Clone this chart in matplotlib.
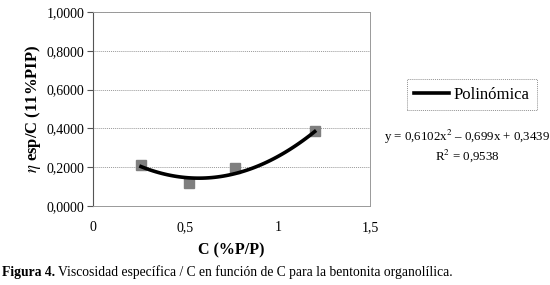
import numpy as np
import matplotlib.pyplot as plt

# datos
conc = [0.26, 0.52, 0.77, 1.20]
visc = [0.213, 0.118, 0.198, 0.386]
coef = [0.6102, -0.699, 0.3439]   # ajuste polinomico de Excel
xticks = [0, 0.5, 1, 1.5]
xlabels = ["0", "0,5", "1", "1,5"]
yticks = [0.0, 0.2, 0.4, 0.6, 0.8, 1.0]
ylabels = ["0,0000", "0,2000", "0,4000", "0,6000", "0,8000", "1,0000"]

plt.rcParams['font.family'] = ['Liberation Serif', 'DejaVu Serif']
plt.rcParams['mathtext.fontset'] = 'stix'

fig = plt.figure(figsize=(5.5, 2.85), dpi=100)
ax = fig.add_axes([0.169, 0.277, 0.504, 0.681])

# curva de tendencia
xs = np.linspace(conc[0], conc[-1], 60)
trend, = ax.plot(xs, np.polyval(coef, xs), color="black", lw=2.6, zorder=3,
                 label="Polinómica")
ax.plot(conc, visc, ls="none", marker="s", ms=7, color="#7f7f7f", zorder=2)

ax.set_xlim(0, 1.5)
ax.set_ylim(0, 1.0)
ax.set_xticks(xticks)
ax.set_xticklabels(xlabels)
ax.set_yticks(yticks)
ax.set_yticklabels(ylabels)
ax.tick_params(axis="x", length=0, pad=11, labelsize=10)
ax.tick_params(axis="y", length=4, width=0.8, color="#555555", pad=2, labelsize=10)
ax.yaxis.grid(True, color="#999999", ls=(0, (1, 1)), lw=0.7)

for s in ["top", "right", "bottom"]:
    ax.spines[s].set_color("#999999")
    ax.spines[s].set_linestyle((0, (1, 1)))
    ax.spines[s].set_linewidth(0.7)
ax.spines["left"].set_color("#555555")
ax.spines["left"].set_linewidth(0.8)

ax.set_xlabel("C (%P/P)", fontsize=11.5, fontweight="bold", labelpad=6)
ax.set_ylabel(r"$\eta$ esp/C (11%PIP)", fontsize=12, fontweight="bold", labelpad=3)

leg = fig.legend(handles=[trend], loc="center", bbox_to_anchor=(0.858, 0.668),
                 fontsize=12, frameon=True, fancybox=False, handlelength=2.1,
                 borderpad=0.45, handletextpad=0.25)
leg.get_frame().set_edgecolor("#777777")
leg.get_frame().set_linewidth(0.7)
leg.get_frame().set_linestyle((0, (1, 1)))

fig.text(0.849, 0.52, "y = 0,6102x$^2$ \u2013 0,699x + 0,3439", ha="center",
         va="center", fontsize=9.3)
fig.text(0.849, 0.455, "R$^2$ = 0,9538", ha="center", va="center", fontsize=9.3)

fig_lbl = fig.text(0.004, 0.045, "Figura 4.", fontsize=9.8, fontweight="bold",
                   va="center")
ax.annotate("Viscosidad específica / C en función de C para la bentonita organolílica.",
            xy=(1, 0.5), xycoords=fig_lbl, xytext=(2, 0), textcoords="offset points",
            fontsize=9.8, va="center", annotation_clip=False)

fig.savefig("out.png", dpi=100)
